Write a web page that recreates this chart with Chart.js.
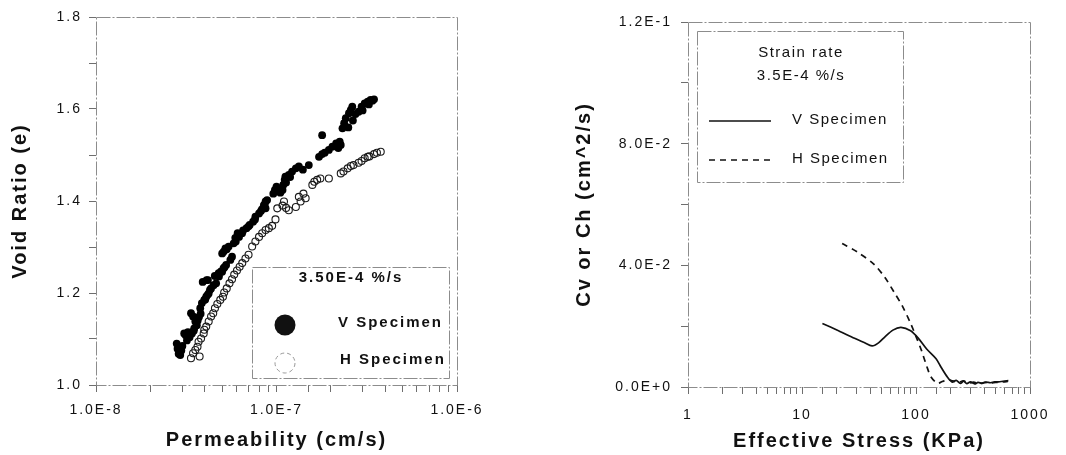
<!DOCTYPE html>
<html>
<head>
<meta charset="utf-8">
<script src="https://cdn.jsdelivr.net/npm/chart.js@4.4.1/dist/chart.umd.min.js"></script>
<style>
  html, body { margin: 0; padding: 0; background: #fff; }
  #wrap { position: relative; width: 1066px; height: 455px; }
  canvas { position: absolute; top: 0; }
  #perm-chart { left: 0; }
  #cv-chart { left: 533px; }
</style>
</head>
<body>
<div id="wrap">
  <canvas id="perm-chart" width="533" height="455"></canvas>
  <canvas id="cv-chart" width="533" height="455"></canvas>
</div>
<script>
// Left panel: void ratio vs permeability
var vPerm = [2.80e-8, 2.83e-8, 2.87e-8, 2.93e-8, 2.97e-8, 3.01e-8, 3.08e-8, 3.14e-8, 3.19e-8, 3.23e-8,
  3.30e-8, 3.36e-8, 3.40e-8, 3.45e-8, 3.48e-8, 3.50e-8, 3.55e-8, 3.62e-8, 3.66e-8, 3.72e-8,
  3.78e-8, 3.80e-8, 3.86e-8, 3.98e-8, 4.03e-8, 4.08e-8, 4.15e-8, 4.21e-8, 4.28e-8, 3.90e-8,
  4.10e-8, 4.17e-8, 4.34e-8, 4.48e-8, 4.63e-8, 4.55e-8, 4.78e-8, 4.80e-8, 4.93e-8, 5.00e-8,
  5.09e-8, 5.15e-8, 5.26e-8, 5.00e-8, 5.10e-8, 5.21e-8, 5.30e-8, 5.43e-8, 5.55e-8, 5.67e-8,
  5.79e-8, 5.91e-8, 5.95e-8, 6.09e-8, 6.20e-8, 6.45e-8, 6.53e-8, 6.82e-8, 7.00e-8, 7.10e-8,
  7.42e-8, 7.60e-8, 7.64e-8, 8.00e-8, 8.20e-8, 8.30e-8, 8.51e-8, 8.60e-8, 8.70e-8, 8.87e-8,
  8.70e-8, 9.60e-8, 9.80e-8, 1.00e-7, 1.05e-7, 1.08e-7, 1.09e-7, 1.11e-7, 1.12e-7, 1.13e-7,
  1.17e-7, 1.19e-7, 1.22e-7, 1.28e-7, 1.33e-7, 1.40e-7, 1.51e-7, 1.72e-7, 1.79e-7, 1.79e-7,
  1.85e-7, 1.95e-7, 2.04e-7, 2.14e-7, 2.20e-7, 2.24e-7, 2.27e-7, 2.32e-7, 2.37e-7, 2.42e-7,
  2.50e-7, 2.52e-7, 2.58e-7, 2.63e-7, 2.65e-7, 2.74e-7, 2.85e-7, 2.96e-7, 3.00e-7, 3.08e-7,
  3.20e-7, 3.25e-7, 3.32e-7, 3.40e-7, 3.47e-7];
var vVoid = [1.090, 1.079, 1.068, 1.065, 1.075, 1.085, 1.112, 1.108, 1.097, 1.115,
  1.104, 1.156, 1.112, 1.149, 1.118, 1.123, 1.138, 1.130, 1.140, 1.148,
  1.167, 1.155, 1.178, 1.185, 1.186, 1.192, 1.196, 1.199, 1.207, 1.224,
  1.228, 1.228, 1.210, 1.217, 1.221, 1.237, 1.243, 1.236, 1.247, 1.246,
  1.254, 1.256, 1.261, 1.286, 1.290, 1.297, 1.295, 1.301, 1.272, 1.279,
  1.308, 1.320, 1.312, 1.330, 1.322, 1.330, 1.336, 1.341, 1.345, 1.348,
  1.355, 1.360, 1.366, 1.373, 1.378, 1.382, 1.391, 1.392, 1.399, 1.402,
  1.384, 1.416, 1.424, 1.431, 1.418, 1.424, 1.435, 1.446, 1.453, 1.440,
  1.457, 1.452, 1.464, 1.471, 1.475, 1.468, 1.478, 1.496, 1.502, 1.543,
  1.505, 1.511, 1.518, 1.525, 1.515, 1.529, 1.522, 1.558, 1.569, 1.580,
  1.560, 1.591, 1.598, 1.605, 1.575, 1.589, 1.594, 1.605, 1.597, 1.612,
  1.616, 1.610, 1.620, 1.618, 1.621];

var hPerm = [3.36e-8, 3.45e-8, 3.55e-8, 3.65e-8, 3.75e-8, 3.70e-8, 3.82e-8, 3.95e-8, 3.98e-8, 4.08e-8,
  4.21e-8, 4.34e-8, 4.46e-8, 4.56e-8, 4.70e-8, 4.88e-8, 5.05e-8, 5.13e-8, 5.30e-8, 5.49e-8,
  5.67e-8, 5.83e-8, 6.04e-8, 6.25e-8, 6.46e-8, 6.73e-8, 7.00e-8, 7.33e-8, 7.64e-8, 8.00e-8,
  8.33e-8, 8.70e-8, 9.07e-8, 9.46e-8, 9.87e-8, 1.01e-7, 1.08e-7, 1.10e-7, 1.13e-7, 1.17e-7,
  1.28e-7, 1.33e-7, 1.36e-7, 1.41e-7, 1.45e-7, 1.58e-7, 1.62e-7, 1.68e-7, 1.75e-7, 1.95e-7,
  2.27e-7, 2.35e-7, 2.48e-7, 2.58e-7, 2.67e-7, 2.85e-7, 2.96e-7, 3.08e-7, 3.20e-7, 3.27e-7,
  3.47e-7, 3.60e-7, 3.78e-7];
var hVoid = [1.058, 1.069, 1.076, 1.083, 1.062, 1.094, 1.101, 1.112, 1.120, 1.127,
  1.138, 1.149, 1.156, 1.167, 1.176, 1.185, 1.192, 1.201, 1.210, 1.221,
  1.230, 1.240, 1.249, 1.257, 1.265, 1.275, 1.283, 1.301, 1.312, 1.322,
  1.330, 1.337, 1.341, 1.346, 1.360, 1.384, 1.390, 1.399, 1.385, 1.380,
  1.387, 1.409, 1.399, 1.416, 1.406, 1.435, 1.442, 1.446, 1.449, 1.449,
  1.460, 1.464, 1.471, 1.476, 1.478, 1.483, 1.487, 1.493, 1.496, 1.497,
  1.502, 1.505, 1.507];

// Right panel: Cv / Ch vs effective stress
var vStress = [15.1, 20.9, 28.9, 35.1, 41.2, 46.9, 53.4, 62.7, 73.8, 89.7,
  105, 124, 150, 166, 189, 208, 225, 245, 262, 279,
  300, 327, 350, 380, 410, 450, 490, 531, 580, 646];
var vCv = [0.0209, 0.0185, 0.0160, 0.0146, 0.0135, 0.0145, 0.0165, 0.0187, 0.0196, 0.0185,
  0.0160, 0.0125, 0.0093, 0.0065, 0.0032, 0.0016, 0.0022, 0.0012, 0.0019, 0.0011,
  0.0017, 0.0010, 0.0015, 0.0012, 0.0016, 0.0014, 0.0017, 0.0017, 0.0019, 0.0021];

var hStress = [22.5, 30.8, 42.6, 53.4, 64.9, 76.2, 89.7, 102, 112, 124,
  136, 155, 170, 189, 210, 235, 260, 290, 320, 360,
  400, 450, 500, 560, 640];
var hCv = [0.0472, 0.0443, 0.0404, 0.0360, 0.0309, 0.0265, 0.0209, 0.0158, 0.0119, 0.0069,
  0.0032, 0.0012, 0.0018, 0.0024, 0.0020, 0.0015, 0.0020, 0.0012, 0.0016, 0.0011,
  0.0015, 0.0013, 0.0015, 0.0016, 0.0018];

var permTicks = [1e-8, 1e-7, 1e-6];
var voidTicks = [1.0, 1.2, 1.4, 1.6, 1.8];
var stressTicks = [1, 10, 100, 1000];
var cvTicks = [0, 0.04, 0.08, 0.12];

var FONT = '"Liberation Sans", Arial, sans-serif';
var INK = '#111';

function pairs(xs, ys) {
  return xs.map(function (x, i) { return { x: x, y: ys[i] }; });
}

function isListed(list, v) {
  return list.some(function (t) { return Math.abs(t - v) <= Math.abs(t) * 1e-6 + 1e-9; });
}

// canvas text in the scan is letter-spaced
var spacing = {
  id: 'spacing',
  beforeUpdate: function (chart) { chart.ctx.letterSpacing = '2px'; },
  beforeDraw: function (chart) { chart.ctx.letterSpacing = '2px'; }
};

var frame = {
  id: 'frame',
  beforeDatasetsDraw: function (chart) {
    var a = chart.chartArea, ctx = chart.ctx;
    ctx.save();
    ctx.strokeStyle = '#8c8c8c';
    ctx.lineWidth = 1;
    ctx.setLineDash([14, 2, 2, 2]);
    ctx.strokeRect(Math.round(a.left) + 0.5, Math.round(a.top) + 0.5,
      Math.round(a.right - a.left), Math.round(a.bottom - a.top));
    ctx.restore();
  }
};

function legendBox(ctx, x, y, w, h) {
  ctx.fillStyle = '#fff';
  ctx.fillRect(x, y, w, h);
  ctx.strokeStyle = '#8c8c8c';
  ctx.lineWidth = 1;
  ctx.setLineDash([14, 2, 2, 2]);
  ctx.strokeRect(x + 0.5, y + 0.5, w, h);
  ctx.setLineDash([]);
}

var permLegend = {
  id: 'permLegend',
  afterDraw: function (chart) {
    var a = chart.chartArea, ctx = chart.ctx;
    var x = a.left + 156, y = a.bottom - 118, w = 197, h = 111;
    var ds = chart.data.datasets;
    ctx.save();
    legendBox(ctx, x, y, w, h);
    ctx.fillStyle = INK;
    ctx.letterSpacing = '2px';
    ctx.font = 'bold 15px ' + FONT;
    ctx.textBaseline = 'middle';
    ctx.textAlign = 'center';
    ctx.fillText('3.50E-4 %/s', x + 99, y + 11);
    ctx.textAlign = 'left';
    ctx.fillText(ds[0].label, x + 86, y + 56);
    ctx.fillText(ds[1].label, x + 88, y + 93);
    ctx.beginPath();
    ctx.arc(x + 33, y + 58, 10.5, 0, Math.PI * 2);
    ctx.fill();
    ctx.strokeStyle = '#9a9a9a';
    ctx.setLineDash([4, 3]);
    ctx.beginPath();
    ctx.arc(x + 33, y + 96, 10, 0, Math.PI * 2);
    ctx.stroke();
    ctx.restore();
  }
};

var cvLegend = {
  id: 'cvLegend',
  afterDraw: function (chart) {
    var a = chart.chartArea, ctx = chart.ctx;
    var x = a.left + 9, y = a.top + 9, w = 206, h = 151;
    var ds = chart.data.datasets;
    ctx.save();
    legendBox(ctx, x, y, w, h);
    ctx.fillStyle = INK;
    ctx.letterSpacing = '1.5px';
    ctx.font = '15px ' + FONT;
    ctx.textBaseline = 'middle';
    ctx.textAlign = 'center';
    ctx.fillText('Strain rate', x + 104, y + 22);
    ctx.fillText('3.5E-4 %/s', x + 104, y + 45);
    ctx.textAlign = 'left';
    ctx.fillText(ds[0].label, x + 95, y + 89);
    ctx.fillText(ds[1].label, x + 95, y + 128);
    ctx.strokeStyle = INK;
    ctx.lineWidth = 1.6;
    ctx.beginPath();
    ctx.moveTo(x + 12, y + 90);
    ctx.lineTo(x + 74, y + 90);
    ctx.stroke();
    ctx.setLineDash(ds[1].borderDash);
    ctx.beginPath();
    ctx.moveTo(x + 12, y + 129);
    ctx.lineTo(x + 74, y + 129);
    ctx.stroke();
    ctx.restore();
  }
};

function tickStyle(padding) {
  return { color: INK, font: { family: FONT, size: 14 }, padding: padding, autoSkip: false, maxRotation: 0 };
}

function gridStyle() {
  return { display: true, drawOnChartArea: false, drawTicks: true, tickLength: 7, tickColor: '#6e6e6e' };
}

function titleStyle(text, pad) {
  return { display: true, text: text, color: INK, font: { family: FONT, size: 20, weight: 'bold' }, padding: pad };
}

function initPermChart() {
  var ctx = document.getElementById('perm-chart');
  return new Chart(ctx, {
    type: 'scatter',
    data: {
      datasets: [{
        label: 'V Specimen',
        data: pairs(vPerm, vVoid),
        pointRadius: 3.9,
        pointBackgroundColor: '#000',
        pointBorderColor: '#000',
        pointBorderWidth: 0
      }, {
        label: 'H Specimen',
        data: pairs(hPerm, hVoid),
        pointRadius: 3.5,
        pointBackgroundColor: 'rgba(0,0,0,0)',
        pointBorderColor: '#1a1a1a',
        pointBorderWidth: 1.1
      }]
    },
    options: {
      responsive: false,
      animation: false,
      layout: { padding: { top: 17, right: 76, bottom: 0, left: 0 } },
      plugins: { legend: { display: false }, tooltip: { enabled: false } },
      scales: {
        x: {
          type: 'logarithmic',
          min: 1e-8,
          max: 1e-6,
          ticks: Object.assign(tickStyle(10), {
            callback: function (v) { return isListed(permTicks, v) ? v.toExponential(1).toUpperCase() : ''; }
          }),
          grid: gridStyle(),
          border: { display: false },
          title: titleStyle('Permeability (cm/s)', { top: 0, bottom: 3 }),
          afterFit: function (s) { s.height = 70; }
        },
        y: {
          min: 1.0,
          max: 1.8,
          ticks: Object.assign(tickStyle(7), {
            stepSize: 0.1,
            callback: function (v) { return isListed(voidTicks, v) ? v.toFixed(1) : ''; }
          }),
          grid: gridStyle(),
          border: { display: false },
          title: titleStyle('Void Ratio (e)', { top: 8, bottom: 0 }),
          afterFit: function (s) { s.width = 96; }
        }
      }
    },
    plugins: [spacing, frame, permLegend]
  });
}

function initCvChart() {
  var ctx = document.getElementById('cv-chart');
  return new Chart(ctx, {
    type: 'scatter',
    data: {
      datasets: [{
        label: 'V Specimen',
        data: pairs(vStress, vCv),
        showLine: true,
        borderColor: '#111',
        borderWidth: 1.7,
        pointRadius: 0,
        tension: 0.3
      }, {
        label: 'H Specimen',
        data: pairs(hStress, hCv),
        showLine: true,
        borderColor: '#111',
        borderWidth: 1.7,
        borderDash: [6, 5],
        pointRadius: 0,
        tension: 0.3
      }]
    },
    options: {
      responsive: false,
      animation: false,
      layout: { padding: { top: 22, right: 36, bottom: 0, left: 0 } },
      plugins: { legend: { display: false }, tooltip: { enabled: false } },
      scales: {
        x: {
          type: 'logarithmic',
          min: 1,
          max: 1000,
          ticks: Object.assign(tickStyle(13), {
            callback: function (v) { return isListed(stressTicks, v) ? String(Math.round(v)) : ''; }
          }),
          grid: gridStyle(),
          border: { display: false },
          title: titleStyle('Effective Stress (KPa)', { top: 0, bottom: 2 }),
          afterFit: function (s) { s.height = 68; }
        },
        y: {
          min: 0,
          max: 0.12,
          ticks: Object.assign(tickStyle(9), {
            stepSize: 0.02,
            callback: function (v) { return isListed(cvTicks, v) ? v.toExponential(1).toUpperCase() : ''; }
          }),
          grid: gridStyle(),
          border: { display: false },
          title: titleStyle('Cv or Ch (cm^2/s)', { top: 39, bottom: 0 }),
          afterFit: function (s) { s.width = 155; }
        }
      }
    },
    plugins: [spacing, frame, cvLegend]
  });
}

initPermChart();
initCvChart();
</script>
</body>
</html>
